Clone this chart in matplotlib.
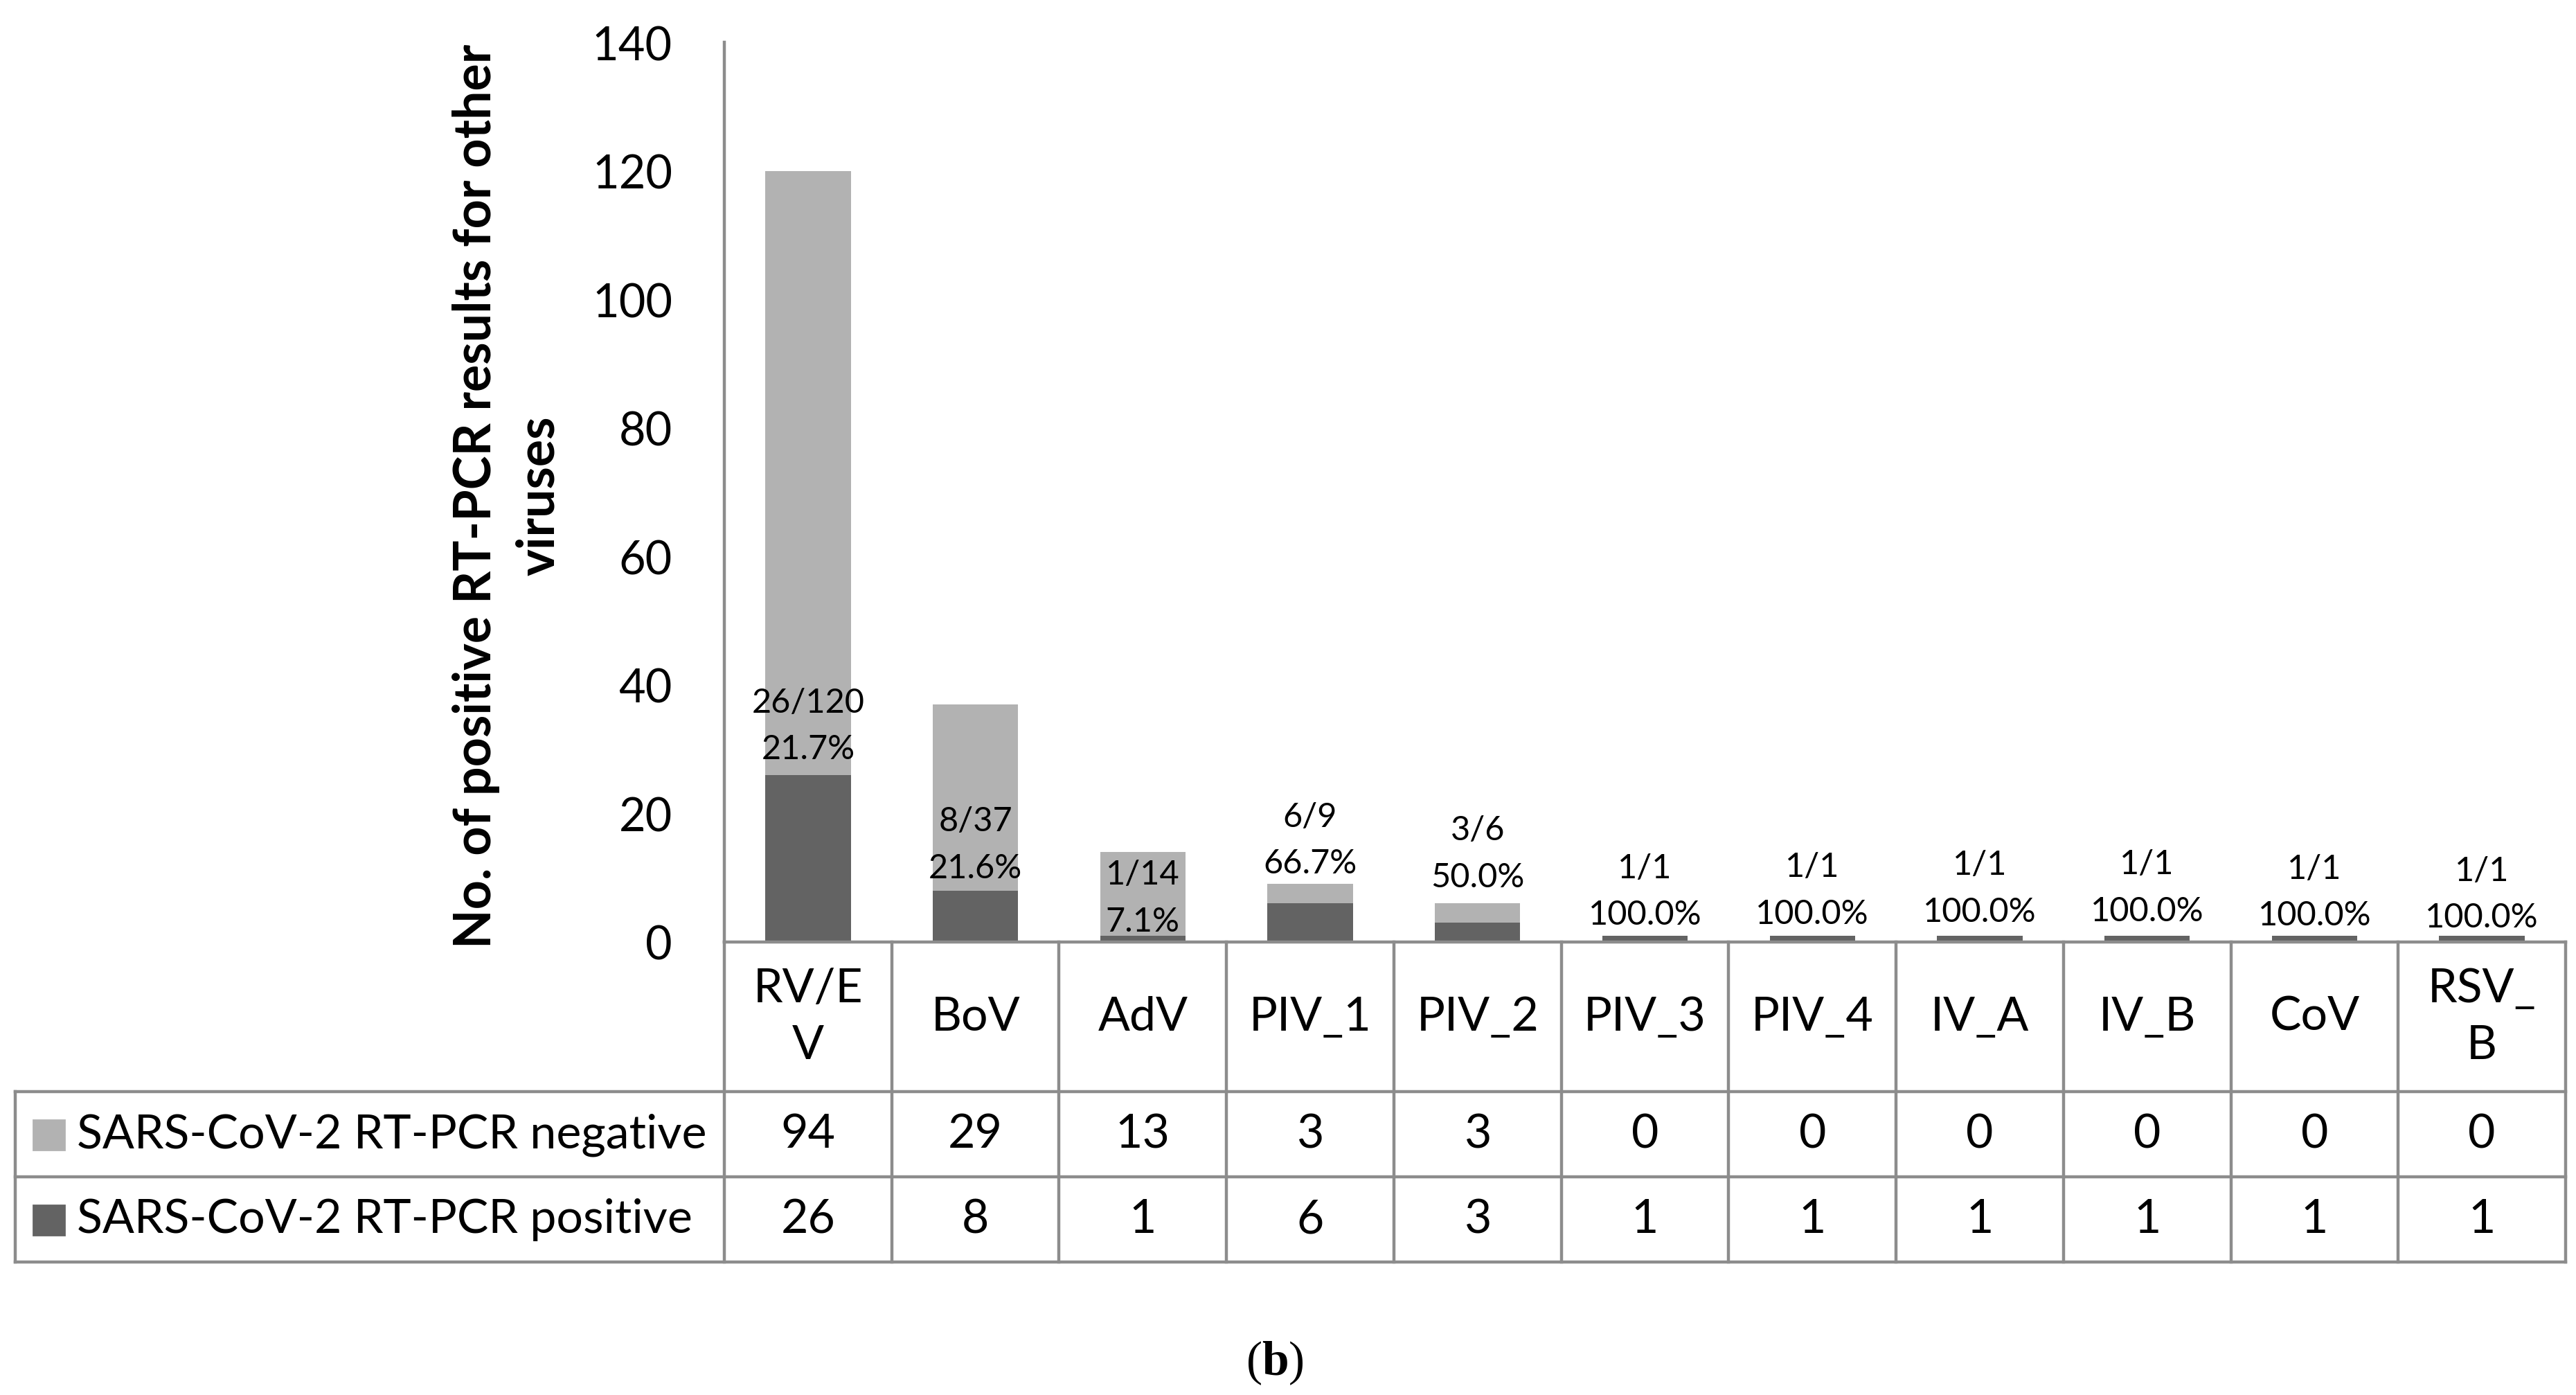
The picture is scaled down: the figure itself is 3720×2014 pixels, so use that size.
import matplotlib
matplotlib.use('Agg')
import matplotlib.pyplot as plt
from matplotlib.transforms import blended_transform_factory
from matplotlib.patches import Rectangle
from matplotlib.lines import Line2D

# ---------------- data ----------------
categories = ['RV/E\nV', 'BoV', 'AdV', 'PIV_1', 'PIV_2', 'PIV_3', 'PIV_4',
              'IV_A', 'IV_B', 'CoV', 'RSV_\nB']
negative = [94, 29, 13, 3, 3, 0, 0, 0, 0, 0, 0]
positive = [26, 8, 1, 6, 3, 1, 1, 1, 1, 1, 1]
series_names = ['SARS-CoV-2 RT-PCR negative', 'SARS-CoV-2 RT-PCR positive']
y_ticks = [0, 20, 40, 60, 80, 100, 120, 140]
y_label = 'No. of positive RT-PCR results for other\nviruses'
panel_label = '(' + r'$\mathbf{b}$' + ')'

# layout: vertical centre (data units) of each data label
label_y = [33.7, 15.2, 6.9, 15.9, 13.8, 7.9, 8.1, 8.4, 8.5, 7.8, 7.5]

# ---------------- style ----------------
NEG_C = '#b2b2b2'
POS_C = '#636363'
LINE_C = '#8c8c8c'
LW = 1.6
FONT = 'Lato'

plt.rcParams['font.family'] = [FONT, 'DejaVu Sans']
plt.rcParams['mathtext.fontset'] = 'custom'
plt.rcParams['mathtext.rm'] = 'Liberation Serif'
plt.rcParams['mathtext.bf'] = 'Liberation Serif:bold'

W, H = 3720, 2015
DPI = 200
fig = plt.figure(figsize=(W / DPI, H / DPI), dpi=DPI)


def fx(px):
    return px / W


def fy(px):
    return 1 - px / H


X0, X1 = 1046, 3705       # plot area / table columns
Y_TOP, Y_BASE = 62, 1361  # 140 and 0
ROW1, ROW2, ROW3 = 1577, 1700, 1823
TABLE_LEFT = 22

ax = fig.add_axes([fx(X0), fy(Y_BASE), fx(X1) - fx(X0), (Y_BASE - Y_TOP) / H])
n = len(categories)
xs = [i + 0.5 for i in range(n)]
ax.bar(xs, positive, width=0.51, color=POS_C, zorder=2)
ax.bar(xs, negative, width=0.51, bottom=positive, color=NEG_C, zorder=2)
ax.set_xlim(0, n)
ax.set_ylim(0, 140)
ax.set_yticks(y_ticks)
ax.set_xticks([])
for s in ['top', 'right', 'bottom']:
    ax.spines[s].set_visible(False)
ax.spines['left'].set_color(LINE_C)
ax.spines['left'].set_linewidth(LW)
ax.tick_params(axis='y', length=0, pad=27, labelsize=24)
ax.patch.set_alpha(0)

# data labels
for i in range(n):
    tot = positive[i] + negative[i]
    txt = f'{positive[i]}/{tot}\n{100 * positive[i] / tot:.1f}%'
    ax.text(xs[i], label_y[i], txt, ha='center', va='center', fontsize=17.5,
            linespacing=1.65, zorder=3)

# y label
fig.text(fx(733), fy(716), y_label, rotation=90, ha='center', va='center',
         multialignment='center', fontsize=26.5, fontweight='bold', linespacing=1.4)

# ---------------- table ----------------
bt = blended_transform_factory(ax.transData, fig.transFigure)
lkw = dict(color=LINE_C, linewidth=LW, solid_capstyle='projecting')

# vertical column lines
for i in range(n + 1):
    fig.add_artist(Line2D([i, i], [fy(Y_BASE), fy(ROW3)], transform=bt, **lkw))
# baseline (x axis)
fig.add_artist(Line2D([0, n], [fy(Y_BASE), fy(Y_BASE)], transform=bt, **lkw))
# row lines across full width
for yy in [ROW1, ROW2, ROW3]:
    fig.add_artist(Line2D([fx(TABLE_LEFT), fx(X1)], [fy(yy), fy(yy)],
                          transform=fig.transFigure, **lkw))
fig.add_artist(Line2D([fx(TABLE_LEFT), fx(TABLE_LEFT)], [fy(ROW1), fy(ROW3)],
                      transform=fig.transFigure, **lkw))

# header (category names)
for i, c in enumerate(categories):
    fig.text(xs[i], fy((Y_BASE + ROW1) / 2), c, transform=bt, ha='center',
             va='center', fontsize=24.5, linespacing=1.4)

# rows
rows = [(negative, NEG_C, (ROW1 + ROW2) / 2), (positive, POS_C, (ROW2 + ROW3) / 2)]
for (vals, col, yc), name in zip(rows, series_names):
    fig.add_artist(Rectangle((fx(48), fy(yc + 22)), fx(45), 43 / H,
                             transform=fig.transFigure, color=col))
    fig.text(fx(111), fy(yc), name, ha='left', va='center', fontsize=24.5)
    for i, v in enumerate(vals):
        fig.text(xs[i], fy(yc), str(v), transform=bt, ha='center', va='center',
                 fontsize=24.5)

# panel label
fig.text(fx(1841), fy(1968), panel_label, ha='center', va='center',
         fontsize=25, family='Liberation Serif')

fig.savefig('out.png', dpi=DPI, facecolor='white')
